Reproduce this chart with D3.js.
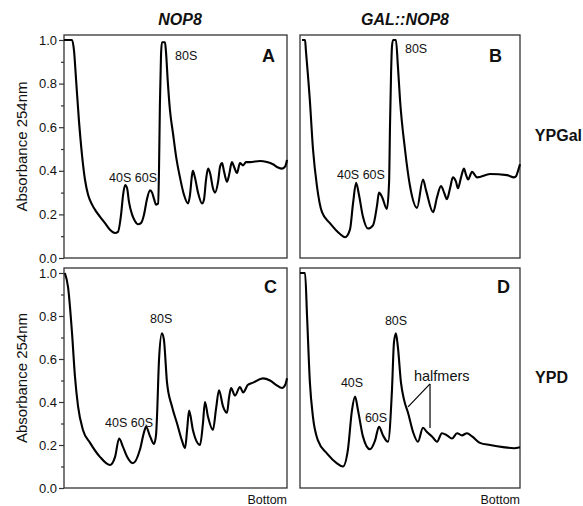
<!DOCTYPE html>
<html>
<head>
<meta charset="utf-8">
<script src="https://cdn.jsdelivr.net/npm/d3@7"></script>
<style>
  html, body { margin: 0; padding: 0; background: #fff; }
  svg { display: block; }
  text { font-family: "Liberation Sans", Arial, Helvetica, sans-serif; fill: #111; }
</style>
</head>
<body>
<svg id="chart" width="583" height="506"></svg>
<script>
// ---- Data (gradient position in % from top to bottom, absorbance at 254 nm) ----
const columnTitles = ["NOP8", "GAL::NOP8"];
const rowTitles = ["YPGal", "YPD"];
const yTicks = [0.0, 0.2, 0.4, 0.6, 0.8, 1.0];
const yMinorTicks = [0.1, 0.3, 0.5, 0.7, 0.9];

const aX = [0,3.6,4.5,5.4,6.7,8.1,9.4,10.8,12.6,14.3,16.1,18.4,20.6,22.9,24.2,25.6,26.5,27.4,28.3,29.1,30.5,31.8,33.2,34.5,35.9,37.2,38.6,39.5,40.4,41.3,42.2,42.6,43.0,43.5,43.9,45.3,45.7,46.6,47.5,48.9,50.2,52.0,53.8,55.6,56.5,57.4,57.8,58.7,60.1,61.9,62.8,63.7,64.6,65.5,66.8,67.7,69.1,70.0,70.9,71.7,73.1,74.0,75.3,76.2,77.6,78.9,80.3,81.6,83.4,87.9,91.0,93.7,96.0,97.8,99.2,100];
const aY = [1.0,1.0,0.95,0.82,0.63,0.47,0.36,0.29,0.245,0.215,0.19,0.16,0.13,0.115,0.12,0.20,0.29,0.335,0.32,0.26,0.20,0.17,0.155,0.16,0.20,0.27,0.31,0.30,0.27,0.245,0.25,0.40,0.70,0.93,0.99,0.99,0.95,0.80,0.68,0.57,0.47,0.37,0.29,0.25,0.29,0.38,0.40,0.37,0.30,0.25,0.27,0.36,0.41,0.39,0.32,0.30,0.35,0.42,0.435,0.40,0.35,0.38,0.44,0.42,0.39,0.435,0.425,0.44,0.44,0.445,0.44,0.43,0.415,0.41,0.42,0.45];

const bX = [0.9,2.3,2.7,4.5,5.9,7.7,10.0,13.6,18.2,20.5,22.7,24.1,25.5,26.8,28.6,30.9,33.2,35.0,35.9,37.3,39.5,40.5,40.9,41.4,41.8,42.3,43.6,44.5,45.5,47.7,50.0,53.2,55.9,57.3,60.5,62.3,64.1,65.5,66.8,68.2,69.5,70.9,71.8,73.2,74.5,75.5,76.4,78.2,80.5,86.4,94.1,97.3,98.2,99.1,100];
const bY = [1.0,1.0,0.95,0.72,0.50,0.33,0.21,0.16,0.11,0.095,0.13,0.25,0.345,0.29,0.19,0.135,0.15,0.24,0.30,0.28,0.225,0.35,0.60,0.85,0.97,1.0,1.0,0.88,0.72,0.50,0.33,0.23,0.36,0.31,0.21,0.28,0.33,0.30,0.27,0.32,0.37,0.35,0.32,0.37,0.41,0.38,0.36,0.395,0.37,0.385,0.38,0.37,0.375,0.40,0.43];

const cX = [0.4,1.8,3.6,4.9,6.3,8.5,11.7,16.1,20.6,22.9,24.7,26.5,28.3,30.9,34.1,35.9,36.8,38.6,40.4,41.3,41.7,42.6,43.9,44.8,46.2,48.4,50.7,52.9,54.3,55.2,56.1,57.8,61.0,62.3,63.2,64.6,66.8,68.2,69.5,71.3,73.1,74.0,74.9,76.7,78.9,80.3,82.5,84.8,89.2,92.4,95.1,97.8,99.2,100];
const cY = [1.0,0.935,0.72,0.52,0.38,0.27,0.21,0.145,0.107,0.145,0.23,0.19,0.145,0.115,0.18,0.26,0.285,0.24,0.205,0.25,0.33,0.595,0.72,0.69,0.49,0.38,0.30,0.22,0.185,0.27,0.36,0.27,0.20,0.30,0.40,0.33,0.27,0.37,0.455,0.38,0.35,0.42,0.465,0.43,0.47,0.445,0.48,0.49,0.51,0.50,0.48,0.465,0.48,0.51];

const dX = [0,2.3,3.2,4.5,5.9,8.2,12.3,16.8,19.5,21.8,23.6,25.0,26.4,28.6,31.8,34.1,35.9,37.7,40.0,41.8,42.7,43.6,44.5,45.9,47.3,49.1,51.4,53.6,55.9,57.7,60.0,62.3,64.5,66.8,69.1,71.4,73.6,75.9,78.2,81.8,86.4,92.3,97.3,100];
const dY = [1.0,1.0,0.80,0.49,0.33,0.22,0.16,0.115,0.10,0.18,0.36,0.425,0.36,0.24,0.18,0.22,0.285,0.245,0.215,0.455,0.675,0.72,0.655,0.49,0.41,0.35,0.26,0.215,0.28,0.26,0.24,0.215,0.255,0.245,0.23,0.255,0.245,0.255,0.24,0.21,0.20,0.19,0.185,0.19];

// peak annotations: [text, x%, absorbance]
const labelsA = [["80S", 49.8, 0.908], ["40S 60S", 20.2, 0.349]];
const labelsB = [["80S", 47.7, 0.940], ["40S 60S", 16.8, 0.362]];
const labelsC = [["80S", 38.6, 0.767], ["40S 60S", 18.4, 0.284]];
const labelsD = [["80S", 38.6, 0.758], ["40S", 18.6, 0.470], ["60S", 29.5, 0.307]];
const halfmersLabel = ["halfmers", 51.8, 0.498];
const halfmersPointers = [[[59.1, 0.484], [49.1, 0.377]], [[59.1, 0.484], [59.1, 0.279]]];

// ---- Layout ----
const svg = d3.select("#chart");
const panels = [
  {id: "A", xs: aX, ys: aY, labels: labelsA, left: 64, right: 287, top: 35, bottom: 258, y1: 40, axis: true, letterDx: -12, letterY: 62},
  {id: "B", xs: bX, ys: bY, labels: labelsB, left: 300, right: 520, top: 35, bottom: 258, y1: 40, axis: false, letterDx: -18, letterY: 62},
  {id: "C", xs: cX, ys: cY, labels: labelsC, left: 64, right: 287, top: 268, bottom: 488, y1: 273, axis: true, letterDx: -10, letterY: 293},
  {id: "D", xs: dX, ys: dY, labels: labelsD, left: 300, right: 520, top: 268, bottom: 488, y1: 273, axis: false, letterDx: -10, letterY: 293}
];

panels.forEach(p => {
  const x = d3.scaleLinear().domain([0, 100]).range([p.left, p.right]);
  const y = d3.scaleLinear().domain([0, 1]).range([p.bottom, p.y1]);
  const g = svg.append("g");

  // frame
  g.append("rect")
    .attr("x", p.left).attr("y", p.top)
    .attr("width", p.right - p.left).attr("height", p.bottom - p.top)
    .attr("fill", "none").attr("stroke", "#333").attr("stroke-width", 1.3);

  if (p.axis) {
    const ax = d3.axisLeft(y).tickValues(yTicks).tickFormat(d3.format(".1f")).tickSize(5).tickPadding(2);
    const ag = g.append("g").attr("transform", `translate(${p.left},0)`).call(ax);
    ag.select(".domain").remove();
    ag.selectAll("line").attr("stroke", "#333").attr("stroke-width", 1.2);
    ag.selectAll("text").attr("font-size", 13).attr("fill", "#111")
      .attr("font-family", "'Liberation Sans', Arial, sans-serif");
    const mg = g.append("g").attr("transform", `translate(${p.left},0)`)
      .call(d3.axisLeft(y).tickValues(yMinorTicks).tickFormat("").tickSize(3));
    mg.select(".domain").remove();
    mg.selectAll("line").attr("stroke", "#333").attr("stroke-width", 1.2);

    g.append("text")
      .attr("transform", `translate(${p.left - 37},${(p.top + p.bottom) / 2}) rotate(-90)`)
      .attr("text-anchor", "middle")
      .attr("font-size", 15)
      .text("Absorbance 254nm");
  }

  // trace
  const line = d3.line().x(i => x(p.xs[i])).y(i => y(p.ys[i])).curve(d3.curveMonotoneX);
  g.append("path")
    .attr("d", line(d3.range(p.xs.length)))
    .attr("fill", "none").attr("stroke", "#000").attr("stroke-width", 2.1)
    .attr("stroke-linejoin", "round");

  // peak labels
  p.labels.forEach(l => {
    g.append("text").attr("x", x(l[1])).attr("y", y(l[2]))
      .attr("font-size", 12.5).text(l[0]);
  });

  // panel letter
  g.append("text").attr("x", p.right + p.letterDx).attr("y", p.letterY)
    .attr("text-anchor", "end").attr("font-size", 18).attr("font-weight", "bold")
    .text(p.id);

  if (p.id === "C" || p.id === "D") {
    g.append("text").attr("x", p.right).attr("y", 504)
      .attr("text-anchor", "end").attr("font-size", 12.5).text("Bottom");
  }

  if (p.id === "D") {
    g.append("text").attr("x", x(halfmersLabel[1])).attr("y", y(halfmersLabel[2]))
      .attr("font-size", 14.5).text(halfmersLabel[0]);
    halfmersPointers.forEach(seg => {
      g.append("line")
        .attr("x1", x(seg[0][0])).attr("y1", y(seg[0][1]))
        .attr("x2", x(seg[1][0])).attr("y2", y(seg[1][1]))
        .attr("stroke", "#000").attr("stroke-width", 1.2);
    });
  }
});

// column titles
[[columnTitles[0], 180], [columnTitles[1], 405]].forEach(t => {
  svg.append("text").attr("x", t[1]).attr("y", 25)
    .attr("text-anchor", "middle").attr("font-size", 16)
    .attr("font-weight", "bold").attr("font-style", "italic")
    .text(t[0]);
});

// row titles
[[rowTitles[0], 141, 582], [rowTitles[1], 383, 568]].forEach(t => {
  svg.append("text").attr("x", t[2]).attr("y", t[1])
    .attr("text-anchor", "end").attr("font-size", 16)
    .attr("font-weight", "bold")
    .text(t[0]);
});
</script>
</body>
</html>
